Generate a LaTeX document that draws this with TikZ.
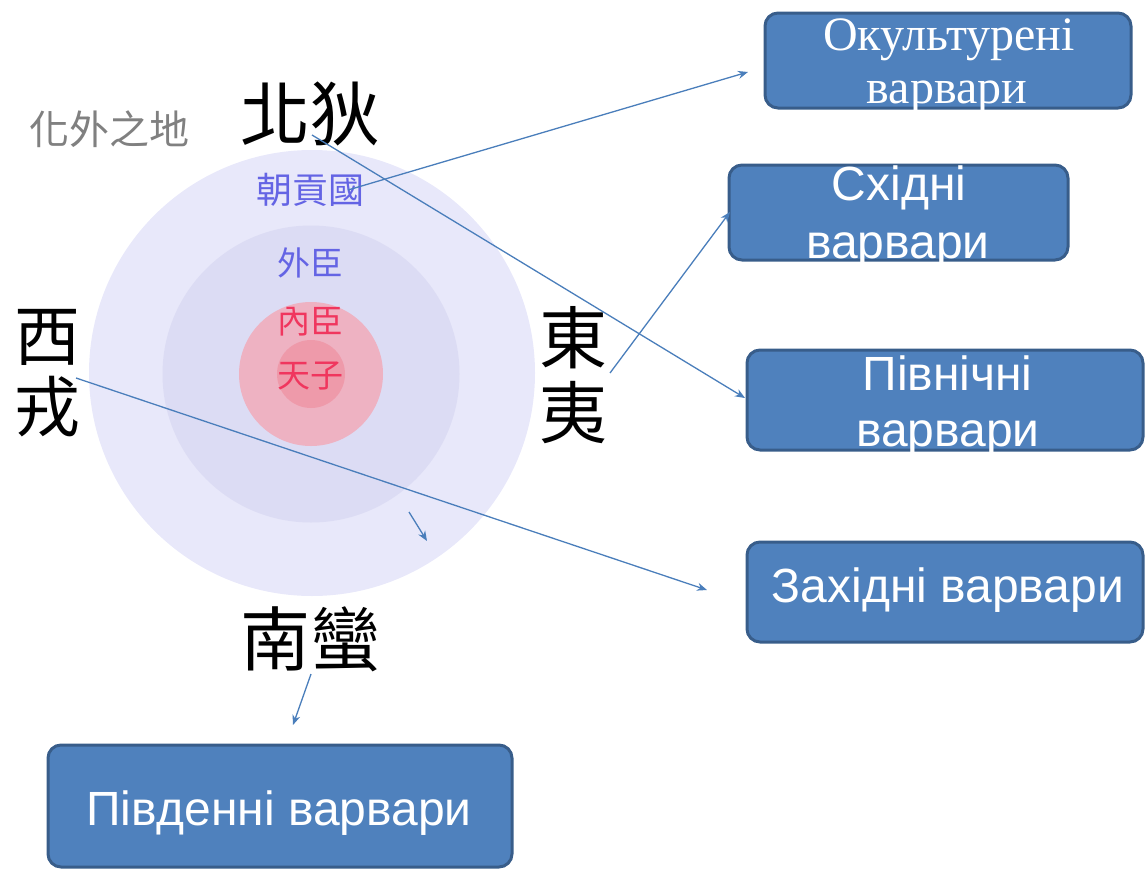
\documentclass[tikz,border=0pt]{standalone}
\usepackage{fontspec}
\setmainfont{Liberation Serif}
\setsansfont{Liberation Sans}
\newfontfamily\cjk{Noto Sans CJK TC}
\usetikzlibrary{arrows.meta}
\definecolor{boxfill}{HTML}{4F81BD}
\definecolor{boxline}{HTML}{385D8A}
\definecolor{arrowc}{HTML}{4A7EBB}
\definecolor{ringA}{HTML}{E8E8FA}
\definecolor{ringB}{HTML}{DCDCF4}
\definecolor{ringC}{HTML}{EEB2C2}
\definecolor{ringD}{HTML}{EE9AAA}
\definecolor{blueTxt}{HTML}{6464E4}
\definecolor{redTxt}{HTML}{F0365E}
\definecolor{grayTxt}{HTML}{808080}
\tikzset{
  ring/.style={circle, inner sep=0pt, draw=none},
  bigcjk/.style={inner sep=0pt, text=black, font=\cjk\fontsize{68}{76}\selectfont, align=center},
  midcjk/.style={inner sep=0pt, font=\cjk\fontsize{33}{36}\selectfont},
  bbox/.style={draw=boxline, line width=3pt, fill=boxfill, rounded corners=13pt, inner sep=0pt},
  btext/.style={text=white, inner sep=0pt, anchor=base, font=\sffamily\fontsize{48}{50}\selectfont},
  stext/.style={text=white, inner sep=0pt, anchor=base, font=\rmfamily\fontsize{48}{50}\selectfont},
  conn/.style={draw=arrowc, line width=1.3pt, -{Stealth[length=10pt,width=8pt]}}
}
\begin{document}
\begin{tikzpicture}[x=1pt,y=-1pt]
\useasboundingbox (0,0) rectangle (1145,870);
% rings
\node[ring, fill=ringA, minimum size=446pt] (outer) at (312,373) {};
\node[ring, fill=ringB, minimum size=297pt] (middle) at (311,374) {};
\node[ring, fill=ringC, minimum size=144pt] (inner) at (311,374) {};
\node[ring, fill=ringD, minimum size=68pt] (core) at (311,374) {};
% ring labels
\node[midcjk, text=blueTxt, font=\cjk\fontsize{36}{38}\selectfont] (chaogong) at (310,190) {朝貢國};
\node[midcjk, text=blueTxt] (waichen) at (310,263) {外臣};
\node[midcjk, text=redTxt] (neichen) at (310,322) {內臣};
\node[midcjk, text=redTxt] (tianzi) at (310,376) {天子};
\node[inner sep=0pt, text=grayTxt, font=\cjk\fontsize{40}{44}\selectfont] (huawai) at (109,129) {化外之地};
% directions
\node[bigcjk, font=\cjk\fontsize{70}{76}\selectfont] (bei) at (310,114) {北狄};
\node[bigcjk, font=\cjk\fontsize{70}{76}\selectfont] (nan) at (310,639) {南蠻};
\node[bigcjk, font=\cjk\fontsize{66}{71}\selectfont] (xi) at (47,373) {西\\戎};
\node[bigcjk, font=\cjk\fontsize{68}{75}\selectfont] (dong) at (573,375) {東\\夷};
% boxes
\node[bbox, minimum width=366pt, minimum height=95pt] (b1) at (948,60.5) {};
\node[bbox, minimum width=339pt, minimum height=95pt] (b2) at (898.5,212.5) {};
\node[bbox, minimum width=396pt, minimum height=100pt] (b3) at (945,400) {};
\node[bbox, minimum width=396pt, minimum height=100pt] (b4) at (945,592) {};
\node[bbox, minimum width=464pt, minimum height=122pt] (b5) at (280,806) {};
% box texts
\node[stext] (t1a) at (949,50) {Окультурені};
\node[stext] (t1b) at (947,103) {варвари};
\node[btext] (t2a) at (899,200) {Східні};
\node[btext] (t2b) at (898,258) {варвари};
\node[btext] (t3a) at (947.5,390) {Північні};
\node[btext] (t3b) at (948,446) {варвари};
\node[btext] (t4) at (948,602) {Західні варвари};
\node[btext] (t5) at (279,825) {Південні варвари};
% connector ends
\coordinate (a1s) at (348,190);
\coordinate (a1e) at (748,72);
\coordinate (a2s) at (312,135);
\coordinate (a2e) at (745,398);
\coordinate (a3s) at (610,373);
\coordinate (a3e) at (730,212);
\coordinate (a4s) at (76,378);
\coordinate (a4e) at (707,590);
\coordinate (a5s) at (409,512);
\coordinate (a5e) at (427,541);
\coordinate (a6s) at (311,674);
\coordinate (a6e) at (293,725);
\draw[conn] (a1s) -- (a1e);
\draw[conn] (a2s) -- (a2e);
\draw[conn] (a3s) -- (a3e);
\draw[conn] (a4s) -- (a4e);
\draw[conn] (a5s) -- (a5e);
\draw[conn] (a6s) -- (a6e);
\end{tikzpicture}
\end{document}
